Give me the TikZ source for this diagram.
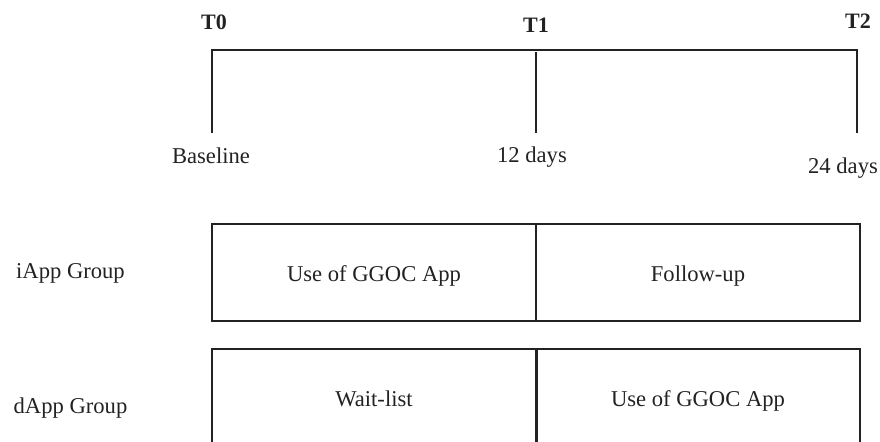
\documentclass[tikz,border=0pt]{standalone}
\usepackage{fontspec}
\setmainfont{Liberation Serif}
\definecolor{ink}{HTML}{222222}
\begin{document}
\begin{tikzpicture}[x=0.5pt,y=-0.5pt,
  every node/.style={inner sep=0pt, outer sep=0pt, text=ink, font=\fontsize{11.3}{13}\selectfont},
  lbl/.style={anchor=base},
  tlab/.style={anchor=base, font=\bfseries\fontsize{11}{13}\selectfont},
  tl/.style={draw=ink, line width=0.6pt},
  cell/.style={draw=ink, line width=1pt, rectangle, minimum width=162pt},
  icell/.style={cell, minimum height=48.5pt},
  dcell/.style={cell, minimum height=60.5pt}]
\useasboundingbox (0,0) rectangle (880,441);
\clip (0,0) rectangle (880,441);
% timeline
\node[tlab] (T0) at (214,29) {T0};
\node[tlab] (T1) at (536,32) {T1};
\node[tlab] (T2) at (858,28) {T2};
\coordinate (t0top) at (212,50);
\coordinate (t0bot) at (212,133);
\coordinate (t1top) at (536,52);
\coordinate (t1bot) at (536,133);
\coordinate (t2top) at (857,50);
\coordinate (t2bot) at (857,133);
\draw[tl] (t0bot) -- (t0top) -- (t2top) -- (t2bot);
\draw[tl] (t1top) -- (t1bot);
\node[lbl] (base) at (211,163) {Baseline};
\node[lbl] (d12) at (532,162) {12 days};
\node[lbl] (d24) at (843,173) {24 days};
% groups
\node[lbl] (ig) at (70.5,278) {iApp Group};
\node[lbl] (dg) at (70.5,413) {dApp Group};
% iApp boxes
\node[icell] (ia) at (374,272.5) {};
\node[icell] (ib) at (698,272.5) {};
\node[lbl] (iat) at (374,281) {Use of GGOC App};
\node[lbl] (ibt) at (698,281) {Follow-up};
% dApp boxes
\node[dcell] (da) at (374,409.5) {};
\node[dcell] (db) at (698,409.5) {};
\draw[draw=ink, line width=1.5pt] (da.north east) -- (da.south east);
\node[lbl] (dat) at (374,406) {Wait-list};
\node[lbl] (dbt) at (698,406) {Use of GGOC App};
\end{tikzpicture}
\end{document}
